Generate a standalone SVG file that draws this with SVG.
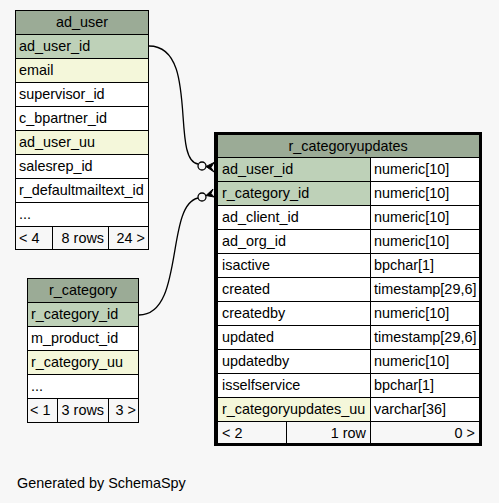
<svg xmlns="http://www.w3.org/2000/svg" width="499" height="503" viewBox="0 0 499 503">
<style>
text{font-family:"Liberation Sans",Arial,sans-serif;font-size:14.4px;fill:#000}
.c{stroke:#000;stroke-width:1}
.h{fill:#9bab96}
.pk{fill:#bed1b8}
.ix{fill:#f4f7da}
.w{fill:#ffffff}
.f{fill:#f7f7f7}
.m{text-anchor:middle}
.r{text-anchor:end}
.edge{fill:none;stroke:#000;stroke-width:1.3}
.dot{fill:none;stroke:#000;stroke-width:1.3}
.crow{fill:#000;stroke:#000;stroke-width:1}
</style>
<rect width="499" height="503" fill="#f7f7f7"/>
<g id="ad_user">
<rect x="15.5" y="10.5" width="133" height="24" class="c h"/>
<text x="82" y="26.5" class="m">ad_user</text>
<rect x="15.5" y="34.5" width="133" height="24" class="c pk"/>
<text x="19" y="50.5">ad_user_id</text>
<rect x="15.5" y="58.5" width="133" height="24" class="c ix"/>
<text x="19" y="74.5">email</text>
<rect x="15.5" y="82.5" width="133" height="24" class="c w"/>
<text x="19" y="98.5">supervisor_id</text>
<rect x="15.5" y="106.5" width="133" height="24" class="c w"/>
<text x="19" y="122.5">c_bpartner_id</text>
<rect x="15.5" y="130.5" width="133" height="24" class="c ix"/>
<text x="19" y="146.5">ad_user_uu</text>
<rect x="15.5" y="154.5" width="133" height="24" class="c w"/>
<text x="19" y="170.5">salesrep_id</text>
<rect x="15.5" y="178.5" width="133" height="24" class="c w"/>
<text x="19" y="194.5">r_defaultmailtext_id</text>
<rect x="15.5" y="202.5" width="133" height="24" class="c w"/>
<text x="19" y="218.5">...</text>
<rect x="15.5" y="226.5" width="37" height="23" class="c f"/>
<text x="19" y="242.5">&lt; 4</text>
<rect x="52.5" y="226.5" width="56" height="23" class="c f"/>
<text x="104" y="242.5" class="r">8 rows</text>
<rect x="108.5" y="226.5" width="40" height="23" class="c f"/>
<text x="145" y="242.5" class="r">24 &gt;</text>
</g>
<g id="r_category">
<rect x="27.5" y="278.5" width="111" height="24" class="c h"/>
<text x="83" y="294.5" class="m">r_category</text>
<rect x="27.5" y="302.5" width="111" height="24" class="c pk"/>
<text x="31" y="318.5">r_category_id</text>
<rect x="27.5" y="326.5" width="111" height="24" class="c w"/>
<text x="31" y="342.5">m_product_id</text>
<rect x="27.5" y="350.5" width="111" height="24" class="c ix"/>
<text x="31" y="366.5">r_category_uu</text>
<rect x="27.5" y="374.5" width="111" height="24" class="c w"/>
<text x="31" y="390.5">...</text>
<rect x="27.5" y="398.5" width="30" height="24" class="c f"/>
<text x="30" y="414.5">&lt; 1</text>
<rect x="57.5" y="398.5" width="51" height="24" class="c f"/>
<text x="104" y="414.5" class="r">3 rows</text>
<rect x="108.5" y="398.5" width="30" height="24" class="c f"/>
<text x="136" y="414.5" class="r">3 &gt;</text>
</g>
<g id="r_categoryupdates">
<rect x="215.5" y="133.5" width="265" height="311" fill="#ffffff" stroke="#000" stroke-width="3"/>
<rect x="217.5" y="134.5" width="262" height="23" class="c h"/>
<text x="348" y="150.5" class="m">r_categoryupdates</text>
<rect x="217.5" y="157.5" width="153" height="24" class="c pk"/>
<text x="222" y="173.5">ad_user_id</text>
<rect x="370.5" y="157.5" width="109" height="24" class="c w"/>
<text x="374" y="173.5">numeric[10]</text>
<rect x="217.5" y="181.5" width="153" height="24" class="c pk"/>
<text x="222" y="197.5">r_category_id</text>
<rect x="370.5" y="181.5" width="109" height="24" class="c w"/>
<text x="374" y="197.5">numeric[10]</text>
<rect x="217.5" y="205.5" width="153" height="24" class="c w"/>
<text x="222" y="221.5">ad_client_id</text>
<rect x="370.5" y="205.5" width="109" height="24" class="c w"/>
<text x="374" y="221.5">numeric[10]</text>
<rect x="217.5" y="229.5" width="153" height="24" class="c w"/>
<text x="222" y="245.5">ad_org_id</text>
<rect x="370.5" y="229.5" width="109" height="24" class="c w"/>
<text x="374" y="245.5">numeric[10]</text>
<rect x="217.5" y="253.5" width="153" height="24" class="c w"/>
<text x="222" y="269.5">isactive</text>
<rect x="370.5" y="253.5" width="109" height="24" class="c w"/>
<text x="374" y="269.5">bpchar[1]</text>
<rect x="217.5" y="277.5" width="153" height="24" class="c w"/>
<text x="222" y="293.5">created</text>
<rect x="370.5" y="277.5" width="109" height="24" class="c w"/>
<text x="374" y="293.5">timestamp[29,6]</text>
<rect x="217.5" y="301.5" width="153" height="24" class="c w"/>
<text x="222" y="317.5">createdby</text>
<rect x="370.5" y="301.5" width="109" height="24" class="c w"/>
<text x="374" y="317.5">numeric[10]</text>
<rect x="217.5" y="325.5" width="153" height="24" class="c w"/>
<text x="222" y="341.5">updated</text>
<rect x="370.5" y="325.5" width="109" height="24" class="c w"/>
<text x="374" y="341.5">timestamp[29,6]</text>
<rect x="217.5" y="349.5" width="153" height="24" class="c w"/>
<text x="222" y="365.5">updatedby</text>
<rect x="370.5" y="349.5" width="109" height="24" class="c w"/>
<text x="374" y="365.5">numeric[10]</text>
<rect x="217.5" y="373.5" width="153" height="24" class="c w"/>
<text x="222" y="389.5">isselfservice</text>
<rect x="370.5" y="373.5" width="109" height="24" class="c w"/>
<text x="374" y="389.5">bpchar[1]</text>
<rect x="217.5" y="397.5" width="153" height="24" class="c ix"/>
<text x="222" y="413.5">r_categoryupdates_uu</text>
<rect x="370.5" y="397.5" width="109" height="24" class="c w"/>
<text x="374" y="413.5">varchar[36]</text>
<rect x="217.5" y="421.5" width="69" height="22" class="c f"/>
<text x="222" y="437.5">&lt; 2</text>
<rect x="286.5" y="421.5" width="84" height="22" class="c f"/>
<text x="366" y="437.5" class="r">1 row</text>
<rect x="370.5" y="421.5" width="109" height="22" class="c f"/>
<text x="475" y="437.5" class="r">0 &gt;</text>
</g>
<g id="connectors">
<path class="edge" d="M149,46 C200,46 170,160 198,164"/>
<circle class="dot" cx="202" cy="166" r="4"/>
<polygon class="crow" points="206,166.5 214,162.5 211,167.5 214,172"/>
<path class="edge" d="M139,315 C185,315 165,205 198,198"/>
<circle class="dot" cx="202" cy="197" r="4"/>
<polygon class="crow" points="206,195.5 213,189 211,193.5 214,197"/>
</g>
<text x="17" y="488">Generated by SchemaSpy</text>
</svg>
